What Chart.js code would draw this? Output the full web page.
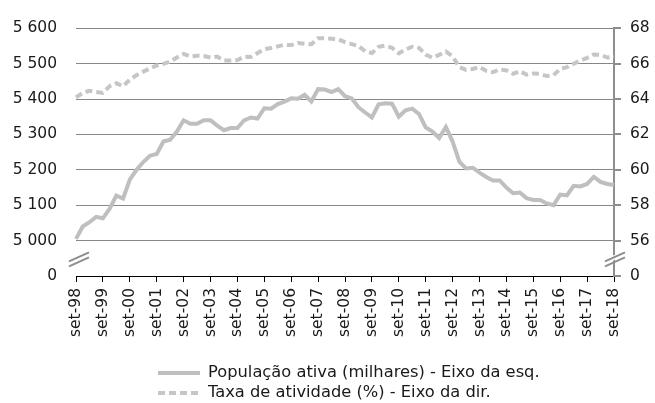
<!DOCTYPE html>
<html>
<head>
<meta charset="utf-8">
<script src="https://cdn.jsdelivr.net/npm/chart.js@4.4.0/dist/chart.umd.min.js"></script>
<style>
  html, body { margin: 0; padding: 0; background: #ffffff; }
  #wrap { width: 655px; height: 403px; position: relative; }
</style>
</head>
<body>
<div id="wrap"><canvas id="c" width="655" height="403"></canvas></div>
<script>
// ---- Data (quarterly readings, set-98 .. set-18) ----
const quarterMonths = ['set', 'dez', 'mar', 'jun'];
const categories = [];
for (let i = 0; i <= 80; i++) {
  const yr = 1998 + Math.floor((i + 2) / 4);
  categories.push(quarterMonths[i % 4] + '-' + String(yr % 100).padStart(2, '0'));
}

const populacaoAtiva = [
  5005, 5040, 5052, 5067, 5063, 5090, 5127, 5119, 5172, 5200,
  5222, 5240, 5245, 5280, 5285, 5308, 5340, 5330, 5330, 5340,
  5340, 5325, 5312, 5318, 5318, 5340, 5348, 5345, 5374, 5373,
  5386, 5393, 5402, 5401, 5412, 5393, 5428, 5427, 5420, 5428,
  5408, 5402, 5377, 5362, 5348, 5385, 5388, 5387, 5350, 5368,
  5373, 5358, 5320, 5308, 5290, 5321, 5280, 5223, 5204, 5206,
  5192, 5180, 5170, 5170, 5150, 5134, 5136, 5120, 5115, 5115,
  5105, 5100, 5130, 5128, 5155, 5153, 5160, 5180, 5166, 5160,
  5157
];

const taxaAtividade = [
  64.10, 64.35, 64.47, 64.40, 64.35, 64.73, 64.90, 64.72, 65.10, 65.35,
  65.55, 65.73, 65.90, 65.99, 66.12, 66.35, 66.55, 66.40, 66.45, 66.43,
  66.35, 66.40, 66.18, 66.18, 66.20, 66.40, 66.38, 66.60, 66.82, 66.89,
  66.98, 67.07, 67.05, 67.17, 67.13, 67.10, 67.44, 67.43, 67.41, 67.38,
  67.22, 67.11, 67.00, 66.70, 66.60, 66.95, 67.02, 66.90, 66.58, 66.80,
  66.96, 66.89, 66.52, 66.34, 66.50, 66.68, 66.42, 65.80, 65.65, 65.70,
  65.82, 65.60, 65.52, 65.68, 65.62, 65.43, 65.58, 65.38, 65.45, 65.42,
  65.30, 65.35, 65.70, 65.80, 66.00, 66.18, 66.33, 66.52, 66.50, 66.35,
  66.40
];

const leftTicks = { min: 4900, max: 5600, step: 100, breakValue: 4900 };
const rightTicks = { min: 54, max: 68, step: 2, breakValue: 54 };

const seriesNames = [
  'População ativa (milhares) - Eixo da esq.',
  'Taxa de atividade (%) - Eixo da dir.'
];

// ---- Styles ----
const LINE_COLOR = '#BFBFBF';
const DASH_COLOR = '#C6C6C6';
const GRID_COLOR = '#878787';
const AXIS_GRAY = '#8E8E8E';
const TEXT_COLOR = '#1A1A1A';
const FONT = 'DejaVu Sans';

function fmtThousands(v) {
  return String(v).replace(/\B(?=(\d{3})+(?!\d))/g, ' ');
}

const breakPlugin = {
  id: 'breaks',
  afterDraw(chart) {
    const ctx = chart.ctx;
    const yL = chart.scales.yL;
    const area = chart.chartArea;
    const yMid = yL.getPixelForValue(leftTicks.min + leftTicks.step / 2);
    const drawBreak = (cx, cy, clear) => {
      ctx.save();
      if (clear) {
        ctx.fillStyle = '#ffffff';
        ctx.beginPath();
        ctx.moveTo(cx - 10, cy + 5);
        ctx.lineTo(cx + 10, cy - 4);
        ctx.lineTo(cx + 10, cy - 9);
        ctx.lineTo(cx - 10, cy);
        ctx.closePath();
        ctx.fill();
      }
      ctx.strokeStyle = AXIS_GRAY;
      ctx.lineWidth = 2;
      ctx.beginPath();
      ctx.moveTo(cx - 10, cy + 7);
      ctx.lineTo(cx + 10, cy - 2);
      ctx.moveTo(cx - 10, cy + 2);
      ctx.lineTo(cx + 10, cy - 7);
      ctx.stroke();
      ctx.restore();
    };
    drawBreak(area.left + 3, yMid + 1, false);
    drawBreak(area.right + 1, yMid + 1, true);

    // Legend
    ctx.save();
    ctx.font = '16.3px "' + FONT + '"';
    ctx.fillStyle = TEXT_COLOR;
    ctx.textBaseline = 'middle';
    const lx0 = 158, lx1 = 200, tx = 208;
    const rows = [chart.height - 30, chart.height - 10];
    ctx.strokeStyle = LINE_COLOR;
    ctx.lineWidth = 4;
    ctx.beginPath();
    ctx.moveTo(lx0, rows[0]); ctx.lineTo(lx1, rows[0]);
    ctx.stroke();
    ctx.fillText(seriesNames[0], tx, rows[0]);
    ctx.strokeStyle = DASH_COLOR;
    ctx.setLineDash([7, 4]);
    ctx.beginPath();
    ctx.moveTo(lx0, rows[1]); ctx.lineTo(lx1, rows[1]);
    ctx.stroke();
    ctx.setLineDash([]);
    ctx.fillText(seriesNames[1], tx, rows[1]);
    ctx.restore();
  }
};

new Chart(document.getElementById('c'), {
  type: 'line',
  data: {
    labels: categories,
    datasets: [
      {
        label: seriesNames[0],
        data: populacaoAtiva,
        yAxisID: 'yL',
        borderColor: LINE_COLOR,
        borderWidth: 4,
        pointRadius: 0,
        tension: 0,
        fill: false
      },
      {
        label: seriesNames[1],
        data: taxaAtividade,
        yAxisID: 'yR',
        borderColor: DASH_COLOR,
        borderWidth: 4,
        borderDash: [7, 4],
        pointRadius: 0,
        tension: 0,
        fill: false
      }
    ]
  },
  options: {
    responsive: false,
    devicePixelRatio: 1,
    animation: false,
    layout: { padding: { top: 24, bottom: 41, left: 0, right: 0 } },
    plugins: {
      legend: { display: false },
      tooltip: { enabled: false }
    },
    scales: {
      x: {
        type: 'category',
        offset: false,
        afterFit(s) { s.height = 86; },
        border: { display: true, color: '#000000', width: 1 },
        grid: {
          display: true,
          drawOnChartArea: false,
          drawTicks: true,
          tickLength: 6,
          color: '#000000'
        },
        ticks: {
          autoSkip: false,
          maxRotation: 90,
          minRotation: 90,
          padding: 6,
          color: TEXT_COLOR,
          font: { family: FONT, size: 15.5 },
          callback(val, idx) { return idx % 4 === 0 ? categories[idx] : null; }
        }
      },
      yL: {
        position: 'left',
        min: leftTicks.min,
        max: leftTicks.max,
        afterFit(s) { s.width = 76; },
        border: { display: false },
        grid: {
          drawTicks: false,
          color: (c) => (c.tick && c.tick.value === leftTicks.breakValue) ? 'rgba(0,0,0,0)' : GRID_COLOR,
          lineWidth: 1
        },
        ticks: {
          stepSize: leftTicks.step,
          padding: 19,
          color: TEXT_COLOR,
          font: { family: FONT, size: 15.5 },
          callback(v) { return v === leftTicks.breakValue ? '0' : fmtThousands(v); }
        }
      },
      yR: {
        position: 'right',
        min: rightTicks.min,
        max: rightTicks.max,
        afterFit(s) { s.width = 41; },
        border: { display: true, color: AXIS_GRAY, width: 2 },
        grid: {
          drawOnChartArea: false,
          drawTicks: true,
          tickLength: 7,
          color: AXIS_GRAY,
          lineWidth: 2
        },
        ticks: {
          stepSize: rightTicks.step,
          padding: 9,
          color: TEXT_COLOR,
          font: { family: FONT, size: 15.5 },
          callback(v) { return v === rightTicks.breakValue ? '0' : String(v); }
        }
      }
    }
  },
  plugins: [breakPlugin]
});
</script>
</body>
</html>
